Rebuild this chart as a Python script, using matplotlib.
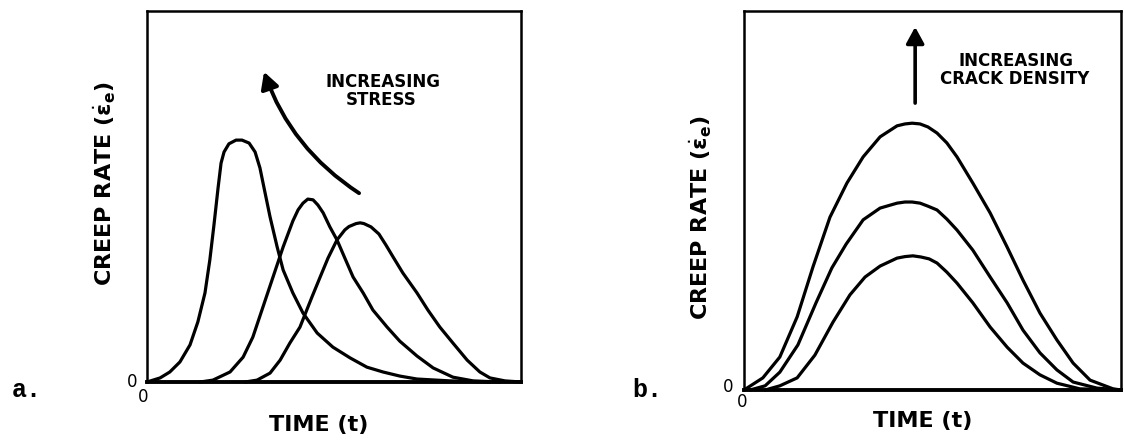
import matplotlib
matplotlib.use("Agg")
import matplotlib.pyplot as plt

# ---------------- data (arbitrary units: time 0-10, creep rate 0-10) ----------------
# Panel a: three stress levels (highest stress first)
a1_t = [0.00, 0.35, 0.61, 0.88, 1.15, 1.36, 1.55, 1.68, 1.79, 1.90, 1.98, 2.06, 2.19, 2.38,
        2.54, 2.73, 2.89, 3.02, 3.13, 3.29, 3.48, 3.64, 3.90, 4.17, 4.55, 4.97, 5.43, 5.88,
        6.31, 6.76, 7.22, 8.10, 9.17]
a1_r = [0.00, 0.11, 0.27, 0.54, 1.00, 1.62, 2.40, 3.29, 4.23, 5.23, 5.90, 6.20, 6.42, 6.52,
        6.52, 6.44, 6.20, 5.77, 5.23, 4.45, 3.64, 3.02, 2.40, 1.86, 1.32, 0.94, 0.65, 0.40,
        0.27, 0.16, 0.08, 0.03, 0.00]

a2_t = [1.42, 1.76, 2.22, 2.57, 2.83, 3.10, 3.37, 3.64, 3.90, 4.04, 4.17, 4.30, 4.44, 4.57,
        4.71, 4.89, 5.08, 5.29, 5.51, 5.78, 6.04, 6.42, 6.76, 7.22, 7.65, 8.18, 8.72, 9.44]
a2_r = [0.00, 0.05, 0.27, 0.67, 1.21, 2.02, 2.83, 3.64, 4.34, 4.64, 4.82, 4.93, 4.91, 4.77,
        4.56, 4.18, 3.83, 3.34, 2.83, 2.40, 1.94, 1.48, 1.10, 0.70, 0.38, 0.13, 0.03, 0.00]

a3_t = [2.62, 2.94, 3.29, 3.56, 3.82, 4.09, 4.41, 4.63, 4.84, 5.08, 5.29, 5.40, 5.59, 5.70,
        5.80, 5.99, 6.20, 6.39, 6.58, 6.84, 7.22, 7.51, 7.83, 8.18, 8.56, 8.90, 9.17, 9.57,
        10.00]
a3_r = [0.00, 0.05, 0.24, 0.59, 1.05, 1.48, 2.29, 2.83, 3.34, 3.83, 4.10, 4.19, 4.27, 4.29,
        4.27, 4.18, 3.99, 3.69, 3.37, 2.94, 2.40, 1.94, 1.48, 1.05, 0.59, 0.27, 0.11, 0.03,
        0.00]

# Panel b: three crack densities (highest density first)
b1_t = [0.00, 0.50, 0.95, 1.41, 1.83, 2.28, 2.73, 3.16, 3.61, 4.06, 4.27, 4.46, 4.67, 4.88,
        5.12, 5.38, 5.65, 6.07, 6.53, 6.98, 7.40, 7.85, 8.30, 8.73, 9.18, 9.79, 10.00]
b1_r = [0.00, 0.32, 0.87, 1.93, 3.25, 4.56, 5.46, 6.15, 6.68, 6.97, 7.02, 7.04, 7.02, 6.94,
        6.78, 6.52, 6.15, 5.46, 4.67, 3.77, 2.90, 2.03, 1.32, 0.71, 0.26, 0.03, 0.00]

b2_t = [0.16, 0.56, 0.95, 1.43, 1.91, 2.33, 2.71, 3.16, 3.61, 4.06, 4.27, 4.46, 4.67, 4.88,
        5.12, 5.38, 5.65, 6.07, 6.53, 6.98, 7.40, 7.85, 8.30, 8.73, 9.36, 10.00]
b2_r = [0.00, 0.11, 0.47, 1.19, 2.30, 3.22, 3.85, 4.49, 4.80, 4.93, 4.96, 4.96, 4.93, 4.85,
        4.75, 4.51, 4.22, 3.69, 2.98, 2.30, 1.58, 0.98, 0.53, 0.21, 0.05, 0.00]

b3_t = [0.56, 0.95, 1.41, 1.88, 2.36, 2.81, 3.21, 3.61, 4.06, 4.27, 4.48, 4.69, 4.91, 5.12,
        5.38, 5.65, 6.07, 6.53, 6.98, 7.40, 7.85, 8.30, 8.91, 10.00]
b3_r = [0.00, 0.11, 0.32, 0.92, 1.79, 2.51, 2.98, 3.27, 3.48, 3.52, 3.54, 3.51, 3.46, 3.35,
        3.11, 2.82, 2.30, 1.66, 1.13, 0.71, 0.40, 0.18, 0.03, 0.00]

panel_labels = ["a.", "b."]
y_label = r"CREEP RATE ($\dot{\mathbf{\epsilon}}_{\mathbf{e}}$)"
x_label = "TIME (t)"
note_a = ["INCREASING", "STRESS"]
note_b = ["INCREASING", "CRACK DENSITY"]

# ---------------- figure ----------------
W, H = 1124, 440
fig = plt.figure(figsize=(W / 100, H / 100), dpi=100)
fig.patch.set_facecolor("white")


def fx(px):
    return px / W


def fy(py):
    return 1 - py / H


axa = fig.add_axes([fx(147), fy(382), fx(521) - fx(147), fy(11) - fy(382)])
axb = fig.add_axes([fx(744), fy(390), fx(1121) - fx(744), fy(11) - fy(390)])

for ax in (axa, axb):
    ax.set_xlim(0, 10)
    ax.set_ylim(0, 10)
    ax.set_xticks([])
    ax.set_yticks([])
    for s in ax.spines.values():
        s.set_linewidth(1.8)
        s.set_color("black")
    ax.spines["bottom"].set_linewidth(2.8)

line_kw = dict(color="black", lw=2.3, solid_joinstyle="round", solid_capstyle="round",
               clip_on=False)
for t, r in ((a1_t, a1_r), (a2_t, a2_r), (a3_t, a3_r)):
    axa.plot(t, r, **line_kw)
for t, r in ((b1_t, b1_r), (b2_t, b2_r), (b3_t, b3_r)):
    axb.plot(t, r, **line_kw)

# arrows
axa.annotate("", xy=(3.13, 8.36), xytext=(5.67, 5.09),
             arrowprops=dict(arrowstyle="-|>,head_length=0.55,head_width=0.3",
                             mutation_scale=18, color="black", lw=2.8,
                             connectionstyle="arc3,rad=-0.17", shrinkA=0, shrinkB=0))
axb.annotate("", xy=(4.54, 9.58), xytext=(4.54, 7.57),
             arrowprops=dict(arrowstyle="-|>,head_length=0.55,head_width=0.3",
                             mutation_scale=18, color="black", lw=2.6,
                             shrinkA=0, shrinkB=0))

bold = dict(fontweight="bold", family="DejaVu Sans", color="black")

# annotation texts
fig.text(fx(383), fy(82), note_a[0], ha="center", va="center", fontsize=12, **bold)
fig.text(fx(381), fy(100), note_a[1], ha="center", va="center", fontsize=12, **bold)
fig.text(fx(1016), fy(61), note_b[0], ha="center", va="center", fontsize=12, **bold)
fig.text(fx(1015), fy(79), note_b[1], ha="center", va="center", fontsize=12, **bold)

# axis labels
fig.text(fx(105), fy(184), y_label, rotation=90, ha="center", va="center", fontsize=16, **bold)
fig.text(fx(701), fy(218), y_label, rotation=90, ha="center", va="center", fontsize=16, **bold)
fig.text(fx(319), fy(425), x_label, ha="center", va="center", fontsize=16, **bold)
fig.text(fx(923), fy(421), x_label, ha="center", va="center", fontsize=16, **bold)

# origin zeros
zero_kw = dict(ha="center", va="center", fontsize=12, family="DejaVu Sans", color="black")
fig.text(fx(132), fy(382), "0", **zero_kw)
fig.text(fx(143), fy(397), "0", **zero_kw)
fig.text(fx(728), fy(387), "0", **zero_kw)
fig.text(fx(742), fy(402), "0", **zero_kw)

# panel letters
fig.text(fx(27), fy(390), panel_labels[0], ha="center", va="center", fontsize=18,
         family="Liberation Mono", fontweight="bold")
fig.text(fx(647), fy(390), panel_labels[1], ha="center", va="center", fontsize=18,
         family="Liberation Mono", fontweight="bold")

fig.savefig("out.png", dpi=100, facecolor="white")
